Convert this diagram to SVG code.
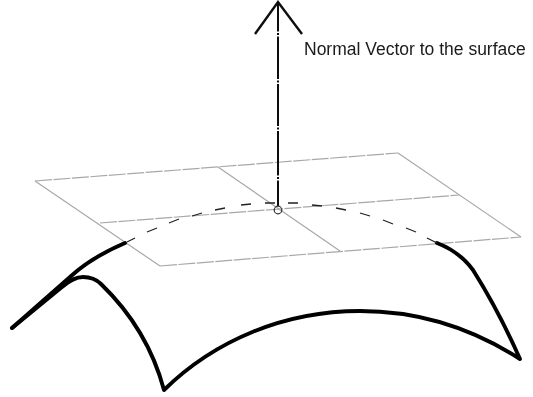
<svg xmlns="http://www.w3.org/2000/svg" width="533" height="397" viewBox="0 0 533 397">
<defs><filter id="soft" x="-5%" y="-5%" width="110%" height="110%"><feGaussianBlur stdDeviation="0.4"/></filter></defs>
<style>
.grid{fill:none;stroke:#a8a8a8;stroke-width:1.2}
.gd{stroke-dasharray:17 1.5}
.thick{fill:none;stroke:#000;stroke-width:3.9;stroke-linecap:round;stroke-linejoin:round}
.dash{fill:none;stroke:#222;stroke-width:1.3}
.axis{fill:none;stroke:#111;stroke-width:2}
text{font-family:"Liberation Sans",Arial,sans-serif;font-size:17.5px;fill:#1a1a1a}
</style>
<rect width="533" height="397" fill="#fff"/>
<g id="plane" filter="url(#soft)">
<path class="grid gd" d="M35 181L398 153"/>
<path class="grid gd" d="M100 223L459 195"/>
<path class="grid gd" d="M160 266L521 237"/>
<path class="grid" d="M35 181L160 266"/>
<path class="grid" d="M218 167L340 251"/>
<path class="grid" d="M398 153L521 237"/>
</g>
<g id="surface" filter="url(#soft)">
<path class="thick" d="M12 328L70 277C85 263 104 252 125 243"/>
<path class="thick" d="M12 328L62 287C70 280 76 277 83 277C90 277 96 279 101 284C130 312 152 345 164 390C215 340 285 311 360 311C420 311 475 330 520 359C505 325 490 297 473 270C462 255 450 248 437 243"/>
<path class="dash" d="M127 242L135 238M147 232L157 228M169 223L179 219M192 216L202 213M215 210L225 208M241 205L251 204M265 203L275 203M288 203L298 203M312 205L322 206M336 208L346 210M360 213L370 216M383 220L393 224M406 228L416 232M427 238L437 243"/>
</g>
<g id="normal" filter="url(#soft)">
<path class="axis" d="M278 3V31.5M278 33V35M278 36.5V79M278 80.5V82.5M278 84V126M278 127.5V129.5M278 131V175.5M278 177V179M278 180.5V206"/>
<path d="M255 34L278 2L302 34" fill="none" stroke="#111" stroke-width="2.4"/>
<circle cx="278" cy="210" r="3.8" fill="none" stroke="#333" stroke-width="1.2"/>
<text x="304" y="55">Normal Vector to the surface</text>
</g>
</svg>
